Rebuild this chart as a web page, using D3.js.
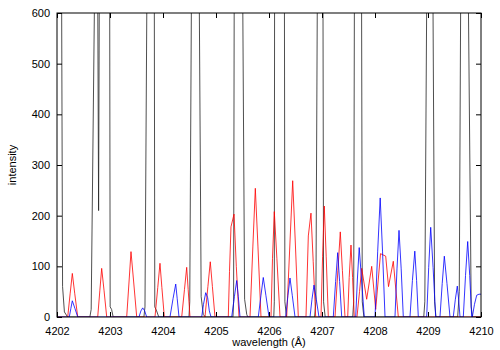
<!DOCTYPE html>
<html><head><meta charset="utf-8">
<script src="https://cdn.jsdelivr.net/npm/d3@7"></script>
<style>
body{margin:0;background:#fff;}
text{font-family:"Liberation Sans",Arial,sans-serif;font-size:11px;fill:#000;}
</style></head>
<body><svg id="c" width="500" height="350"></svg>
<script>
// ---- data ----
const xTicks = [4202,4203,4204,4205,4206,4207,4208,4209,4210];
const yTicks = [0,100,200,300,400,500,600];
const xLabel = "wavelength (Å)";
const yLabel = "intensity";

// observed spectrum (black) [wavelength, intensity]; strong lines run far off scale
const blackSpectrum = [
 [4201.95,0],[4202.02,3000],[4202.085,700],[4202.105,60],[4202.14,10],[4202.20,0],
 [4202.62,0],[4202.645,15],[4202.715,700],[4202.74,2500],[4202.766,700],[4202.785,210],[4202.80,700],[4202.90,2500],[4202.993,700],[4203.003,20],[4203.03,15],[4203.06,0],
 [4203.64,0],[4203.66,20],[4203.70,700],[4203.76,3000],[4203.835,700],[4203.845,20],[4203.88,12],[4203.92,0],
 [4204.49,0],[4204.505,30],[4204.54,700],[4204.60,3000],[4204.68,700],[4204.72,40],[4204.76,5],[4204.80,0],
 [4205.32,0],[4205.332,30],[4205.345,700],[4205.42,3000],[4205.50,700],[4205.54,35],[4205.58,5],[4205.60,0],
 [4206.09,0],[4206.10,30],[4206.106,700],[4206.20,3000],[4206.29,700],[4206.30,30],[4206.33,0],
 [4206.86,0],[4206.885,30],[4206.915,700],[4206.97,3000],[4207.017,700],[4207.03,30],[4207.06,0],
 [4207.58,0],[4207.598,30],[4207.613,700],[4207.68,3000],[4207.745,700],[4207.76,30],[4207.79,0],
 [4208.92,0],[4208.94,30],[4208.98,700],[4209.04,3000],[4209.09,700],[4209.125,30],[4209.15,0],
 [4209.56,0],[4209.59,50],[4209.62,700],[4209.68,3000],[4209.755,700],[4209.815,20],[4209.84,0],
 [4210.05,0]
];

// model 1 (red)
const redSpectrum = [
 [4201.95,0],
 [4202.202,0],[4202.249,47],[4202.289,86],[4202.334,47],[4202.391,0],
 [4202.768,0],[4202.809,53],[4202.843,96],[4202.887,53],[4202.938,0],
 [4203.315,0],[4203.360,71],[4203.396,129],[4203.445,71],[4203.504,0],
 [4203.849,0],[4203.901,58],[4203.943,106],[4203.979,58],[4204.025,0],
 [4204.353,0],[4204.405,54],[4204.447,98],[4204.475,54],[4204.509,0],
 [4204.792,0],[4204.847,60],[4204.892,109],[4204.932,60],[4204.981,0],
 [4205.232,0],[4205.255,90],[4205.283,178],[4205.340,203],[4205.383,100],[4205.434,0],
 [4205.642,0],[4205.696,140],[4205.742,254],[4205.791,140],[4205.849,0],
 [4206.038,0],[4206.066,115],[4206.100,208],[4206.149,115],[4206.208,0],
 [4206.334,0],[4206.396,148],[4206.447,269],[4206.496,148],[4206.553,0],
 [4206.698,0],[4206.742,160],[4206.792,205],[4206.834,110],[4206.881,0],
 [4206.981,0],[4207.011,120],[4207.043,219],[4207.079,120],[4207.119,0],
 [4207.245,0],[4207.300,92],[4207.345,168],[4207.385,92],[4207.434,0],
 [4207.485,0],[4207.513,78],[4207.547,142],[4207.577,78],[4207.609,0],
 [4207.660,0],[4207.708,50],[4207.749,96],[4207.843,35],[4207.938,100],[4208.013,15],[4208.104,125],[4208.202,120],[4208.255,60],[4208.345,110],[4208.440,0],
 [4210.05,0]
];

// model 2 (blue)
const blueSpectrum = [
 [4201.95,0],
 [4202.232,0],[4202.262,17],[4202.289,32],[4202.338,17],[4202.391,0],
 [4203.547,0],[4203.583,12],[4203.617,18],[4203.655,12],[4203.692,0],
 [4204.132,0],[4204.189,36],[4204.240,65],[4204.268,36],[4204.302,0],
 [4204.730,0],[4204.764,25],[4204.806,48],[4204.843,38],[4204.874,12],[4204.906,0],
 [4205.296,0],[4205.347,40],[4205.391,72],[4205.421,40],[4205.453,0],
 [4205.798,0],[4205.849,43],[4205.892,78],[4205.941,43],[4206.000,0],
 [4206.315,0],[4206.357,42],[4206.396,77],[4206.440,42],[4206.491,0],
 [4206.774,0],[4206.811,35],[4206.849,63],[4206.892,35],[4206.943,0],
 [4207.213,0],[4207.257,70],[4207.296,127],[4207.332,70],[4207.372,0],
 [4207.636,0],[4207.668,75],[4207.702,137],[4207.745,75],[4207.798,0],
 [4208.000,0],[4208.051,130],[4208.098,235],[4208.142,130],[4208.189,0],
 [4208.377,0],[4208.415,95],[4208.453,171],[4208.494,95],[4208.534,0],
 [4208.660,0],[4208.706,72],[4208.751,130],[4208.785,72],[4208.817,0],
 [4208.975,0],[4209.013,98],[4209.051,177],[4209.096,98],[4209.145,0],
 [4209.226,0],[4209.268,66],[4209.308,120],[4209.358,66],[4209.415,0],
 [4209.477,0],[4209.515,34],[4209.553,61],[4209.579,34],[4209.604,0],
 [4209.666,0],[4209.708,82],[4209.749,149],[4209.787,82],[4209.825,0],
 [4209.836,0],[4209.877,25],[4209.919,43],[4209.962,45],[4210.0,45]
];

// ---- chart ----
(function(){
const W=500,H=350;
const m={left:57,right:19,top:13,bottom:33};
const svg=d3.select("#c");
const x=d3.scaleLinear().domain([4202,4210]).range([m.left,W-m.right]);
const y=d3.scaleLinear().domain([0,600]).range([H-m.bottom,m.top]);

svg.append("defs").append("clipPath").attr("id","clip")
 .append("rect").attr("x",x(4202)).attr("y",y(600)).attr("width",x(4210)-x(4202)).attr("height",y(0)-y(600));

const line=d3.line().x(d=>x(d[0])).y(d=>y(d[1]));
const g=svg.append("g").attr("clip-path","url(#clip)");
[[blackSpectrum,"#222"],[redSpectrum,"#ff0000"],[blueSpectrum,"#0000ff"]].forEach(([data,col])=>{
  g.append("path").datum(data).attr("d",line).attr("fill","none").attr("stroke",col).attr("stroke-width",0.8);
});

const tick=5;
const axBottom=svg.append("g").attr("transform",`translate(0,${y(0)})`)
 .call(d3.axisBottom(x).tickValues(xTicks).tickFormat(d3.format("d")).tickSize(-tick).tickPadding(10));
const axTop=svg.append("g").attr("transform",`translate(0,${y(600)})`)
 .call(d3.axisTop(x).tickValues(xTicks).tickFormat("").tickSize(-tick));
const axLeft=svg.append("g").attr("transform",`translate(${x(4202)},0)`)
 .call(d3.axisLeft(y).tickValues(yTicks).tickFormat(d3.format("d")).tickSize(-tick).tickPadding(7));
const axRight=svg.append("g").attr("transform",`translate(${x(4210)},0)`)
 .call(d3.axisRight(y).tickValues(yTicks).tickFormat("").tickSize(-tick));
[axBottom,axTop,axLeft,axRight].forEach(a=>{
  a.selectAll(".domain").remove();
  a.selectAll("line").attr("stroke","#000");
  a.selectAll("text").attr("font-family",null).attr("font-size",null).attr("fill","#000");
});
svg.append("rect").attr("x",x(4202)).attr("y",y(600)).attr("width",x(4210)-x(4202)).attr("height",y(0)-y(600))
 .attr("fill","none").attr("stroke","#000").attr("stroke-width",1);

svg.append("text").attr("x",(x(4202)+x(4210))/2).attr("y",346).attr("text-anchor","middle").text(xLabel);
svg.append("text").attr("transform",`translate(16,${(y(0)+y(600))/2}) rotate(-90)`).attr("text-anchor","middle").text(yLabel);
})();
</script></body></html>
